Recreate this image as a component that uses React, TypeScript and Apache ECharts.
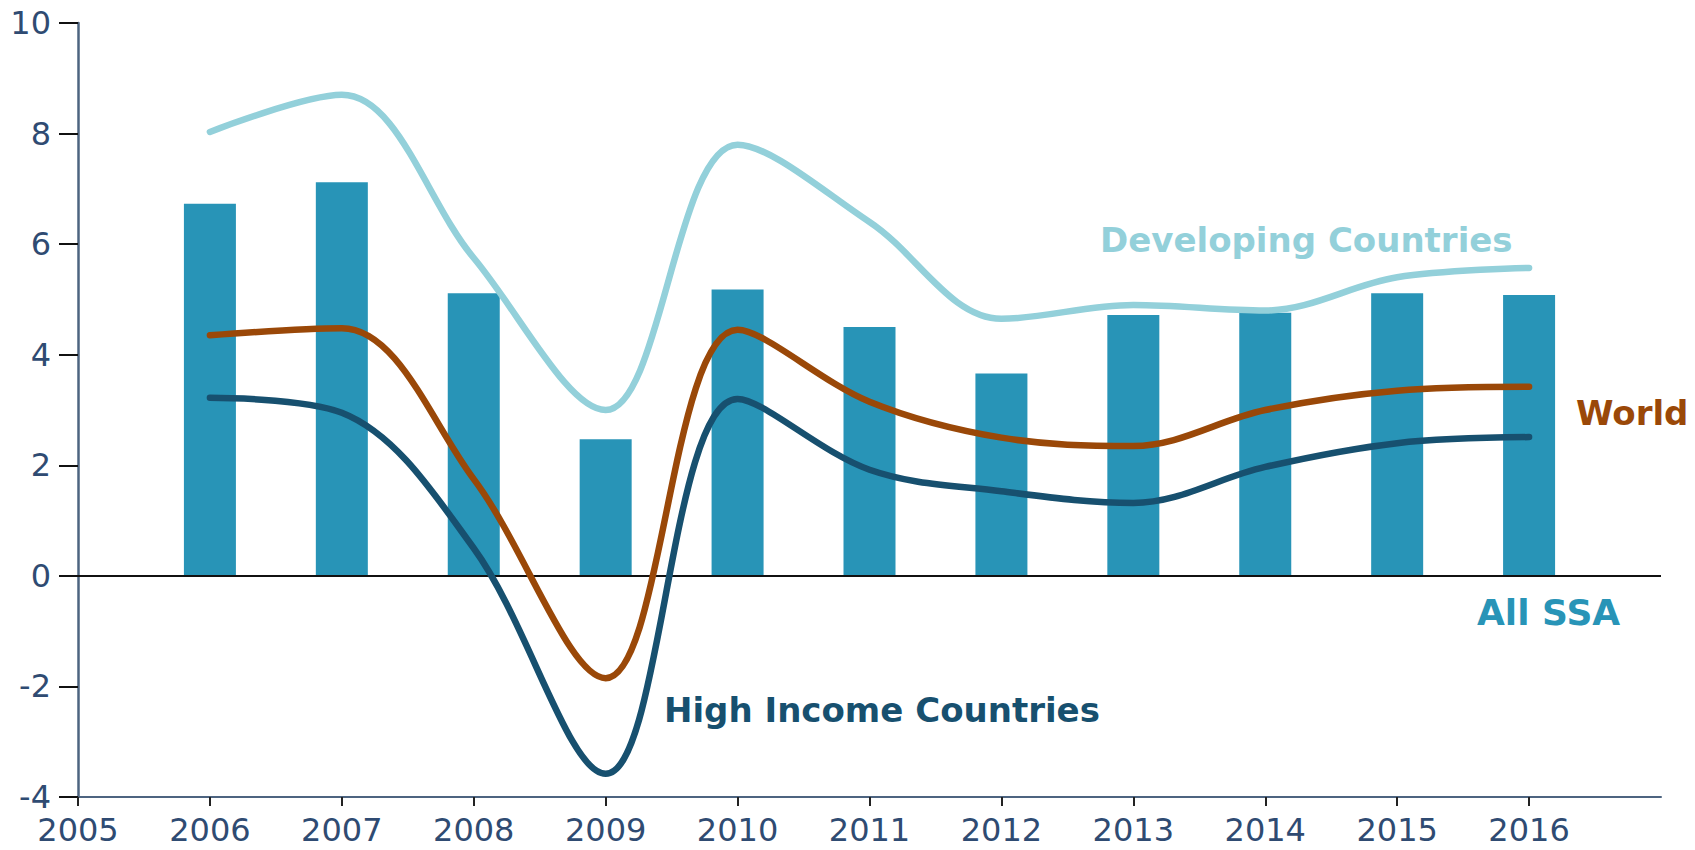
import React, { useEffect, useRef } from "react";
import * as echarts from "echarts";

const years = [2006, 2007, 2008, 2009, 2010, 2011, 2012, 2013, 2014, 2015, 2016];
const tickYears = [2005, 2006, 2007, 2008, 2009, 2010, 2011, 2012, 2013, 2014, 2015, 2016];
const allSSA = [6.73, 7.12, 5.11, 2.47, 5.18, 4.5, 3.66, 4.72, 4.76, 5.11, 5.08];
const developing = [8.03, 8.7, 5.75, 3.0, 7.8, 6.4, 4.65, 4.9, 4.8, 5.4, 5.57];
const world = [4.35, 4.48, 1.75, -1.85, 4.45, 3.15, 2.5, 2.35, 3.0, 3.35, 3.42];
const highIncome = [3.22, 2.95, 0.5, -3.58, 3.2, 1.92, 1.53, 1.32, 1.97, 2.4, 2.51];

const C_BAR = "#2894B7";
const C_DEV = "#93D0DA";
const C_WORLD = "#9A4808";
const C_HIGH = "#17506F";
const C_AXISTXT = "#2F4B72";
const FONT = "DejaVu Sans";

const pairs = (vals: number[]) => years.map((y, i) => [y, vals[i]]);

export default function App() {
  const ref = useRef<HTMLDivElement>(null);
  useEffect(() => {
    if (!ref.current) return;
    const chart = echarts.init(ref.current, undefined, { renderer: "svg" });
    const lineSeries = (name: string, vals: number[], color: string) => ({
      name,
      type: "line",
      data: pairs(vals),
      smooth: 0.35,
      symbol: "none",
      lineStyle: { width: 6.5, color, cap: "round" },
      z: 5,
    });
    chart.setOption({
      animation: false,
      backgroundColor: "#ffffff",
      grid: { left: 78, right: 34, top: 23, bottom: 53, containLabel: false },
      xAxis: {
        type: "value",
        min: 2005,
        max: 2017,
        interval: 1,
        axisLine: { show: true, onZero: false, lineStyle: { color: "#4d6480", width: 2 } },
        axisTick: {
          show: true,
          length: 9,
          customValues: tickYears,
          lineStyle: { color: "#222222", width: 2 },
        },
        axisLabel: {
          customValues: tickYears,
          formatter: (v: number) => (v > 2016 ? "" : String(v)),
          margin: 17,
          fontSize: 32,
          lineHeight: 32,
          fontFamily: FONT,
          color: C_AXISTXT,
        },
        splitLine: { show: false },
      },
      yAxis: {
        type: "value",
        min: -4,
        max: 10,
        interval: 2,
        axisLine: { show: true, onZero: false, lineStyle: { color: "#4d6480", width: 2.5 } },
        axisTick: { show: true, length: 19, lineStyle: { color: "#111111", width: 2 } },
        axisLabel: {
          margin: 27,
          fontSize: 32,
          fontFamily: FONT,
          color: C_AXISTXT,
        },
        splitLine: { show: false },
      },
      series: [
        {
          name: "All SSA",
          type: "bar",
          data: pairs(allSSA),
          barWidth: 52,
          itemStyle: { color: C_BAR },
          z: 2,
          markLine: {
            silent: true,
            symbol: ["none", "none"],
            label: { show: false },
            lineStyle: { color: "#111111", width: 2, type: "solid" },
            data: [{ yAxis: 0 }],
          },
        },
        lineSeries("High Income Countries", highIncome, C_HIGH),
        lineSeries("World", world, C_WORLD),
        lineSeries("Developing Countries", developing, C_DEV),
      ],
      graphic: [
        {
          type: "text",
          x: 1100,
          y: 240,
          style: {
            text: "Developing Countries",
            fill: C_DEV,
            fontSize: 34,
            fontWeight: "bold",
            fontFamily: FONT,
            verticalAlign: "middle",
            align: "left",
          },
        },
        {
          type: "text",
          x: 1576,
          y: 413,
          style: {
            text: "World",
            fill: C_WORLD,
            fontSize: 34,
            fontWeight: "bold",
            fontFamily: FONT,
            verticalAlign: "middle",
            align: "left",
          },
        },
        {
          type: "text",
          x: 1477,
          y: 612,
          style: {
            text: "All SSA",
            fill: C_BAR,
            fontSize: 36,
            fontWeight: "bold",
            fontFamily: FONT,
            verticalAlign: "middle",
            align: "left",
          },
        },
        {
          type: "text",
          x: 664,
          y: 710,
          style: {
            text: "High Income Countries",
            fill: C_HIGH,
            fontSize: 34,
            fontWeight: "bold",
            fontFamily: FONT,
            verticalAlign: "middle",
            align: "left",
          },
        },
      ],
    });
    return () => chart.dispose();
  }, []);
  return (
    <div
      ref={ref}
      style={{ position: "fixed", left: 0, top: 0, width: 1695, height: 850, background: "#fff" }}
    />
  );
}
